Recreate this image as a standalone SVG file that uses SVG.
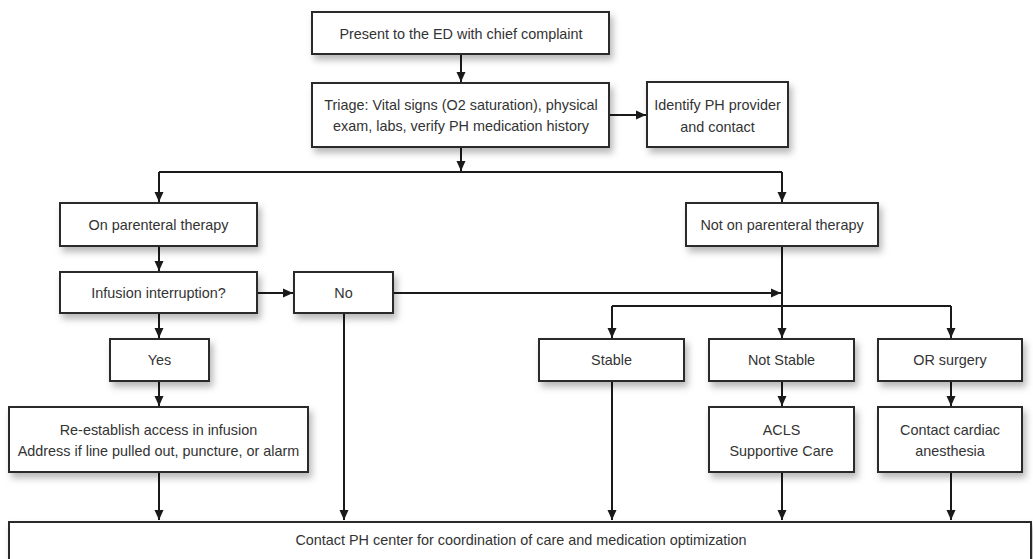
<svg xmlns="http://www.w3.org/2000/svg" width="1033" height="559" viewBox="0 0 1033 559">
<defs>
<filter id="sh" x="-10%" y="-20%" width="130%" height="160%">
<feDropShadow dx="3" dy="5" stdDeviation="3.5" flood-color="#000" flood-opacity="0.28"/>
</filter>
<marker id="ah" markerWidth="10" markerHeight="10" viewBox="0 0 10 10" refX="10" refY="5" orient="auto" markerUnits="userSpaceOnUse">
<path d="M0,0.5 L10,5 L0,9.5 Z" fill="#1a1a1a"/>
</marker>
</defs>
<style>
.box{fill:#fff;stroke:#2a2a2a;stroke-width:2;filter:url(#sh)}
.t{font-family:"Liberation Sans",Arial,sans-serif;font-size:14.4px;fill:#333;text-anchor:middle}
.c{fill:none;stroke:#1a1a1a;stroke-width:2}
.a{marker-end:url(#ah)}
</style>
<rect width="1033" height="559" fill="#fff"/>
<g id="connectors">
<path class="c a" d="M461,54 V82"/>
<path class="c a" d="M609,115 H646"/>
<path class="c a" d="M461,147 V171"/>
<path class="c" d="M159,172 H782"/>
<path class="c a" d="M159,172 V202"/>
<path class="c a" d="M782,172 V202"/>
<path class="c a" d="M159,246 V271"/>
<path class="c a" d="M257,293 H293"/>
<path class="c a" d="M393,293 H781"/>
<path class="c" d="M782,246 V306"/>
<path class="c" d="M612,306 H951"/>
<path class="c a" d="M612,306 V338"/>
<path class="c a" d="M782,306 V338"/>
<path class="c a" d="M951,306 V338"/>
<path class="c a" d="M159,313 V338"/>
<path class="c a" d="M159,381 V406"/>
<path class="c a" d="M159,472 V520"/>
<path class="c a" d="M344,313 V520"/>
<path class="c a" d="M612,381 V520"/>
<path class="c a" d="M782,381 V406"/>
<path class="c a" d="M782,472 V520"/>
<path class="c a" d="M951,381 V406"/>
<path class="c a" d="M951,472 V520"/>
</g>
<g id="n-present"><rect class="box" x="312" y="12" width="297" height="42"/><text class="t" x="461" y="39">Present to the ED with chief complaint</text></g>
<g id="n-triage"><rect class="box" x="312" y="83" width="297" height="64"/><text class="t" x="461" y="110">Triage: Vital signs (O2 saturation), physical</text><text class="t" x="461" y="131">exam, labs, verify PH medication history</text></g>
<g id="n-identify"><rect class="box" x="647" y="82" width="141" height="65"/><text class="t" x="717.5" y="110">Identify PH provider</text><text class="t" x="717.5" y="132">and contact</text></g>
<g id="n-onpar"><rect class="box" x="60" y="203" width="197" height="43"/><text class="t" x="158.5" y="230">On parenteral therapy</text></g>
<g id="n-notpar"><rect class="box" x="686" y="203" width="192" height="43"/><text class="t" x="782" y="230">Not on parenteral therapy</text></g>
<g id="n-infusion"><rect class="box" x="60" y="272" width="197" height="41"/><text class="t" x="158.5" y="298">Infusion interruption?</text></g>
<g id="n-no"><rect class="box" x="294" y="272" width="99" height="41"/><text class="t" x="343.5" y="298">No</text></g>
<g id="n-yes"><rect class="box" x="110" y="339" width="99" height="42"/><text class="t" x="159.5" y="365">Yes</text></g>
<g id="n-stable"><rect class="box" x="539" y="339" width="145" height="42"/><text class="t" x="611.5" y="365">Stable</text></g>
<g id="n-notstable"><rect class="box" x="709" y="339" width="145" height="42"/><text class="t" x="781.5" y="365">Not Stable</text></g>
<g id="n-or"><rect class="box" x="878" y="339" width="144" height="42"/><text class="t" x="950" y="365">OR surgery</text></g>
<g id="n-reestablish"><rect class="box" x="9" y="407" width="299" height="65"/><text class="t" x="158.5" y="435">Re-establish access in infusion</text><text class="t" x="158.5" y="456">Address if line pulled out, puncture, or alarm</text></g>
<g id="n-acls"><rect class="box" x="709" y="407" width="145" height="65"/><text class="t" x="781.5" y="435">ACLS</text><text class="t" x="781.5" y="456">Supportive Care</text></g>
<g id="n-cardiac"><rect class="box" x="878" y="407" width="144" height="65"/><text class="t" x="950" y="435">Contact cardiac</text><text class="t" x="950" y="456">anesthesia</text></g>
<g id="n-contact"><rect class="box" x="9" y="522" width="1022" height="50"/><text class="t" x="521" y="545">Contact PH center for coordination of care and medication optimization</text></g>
</svg>
